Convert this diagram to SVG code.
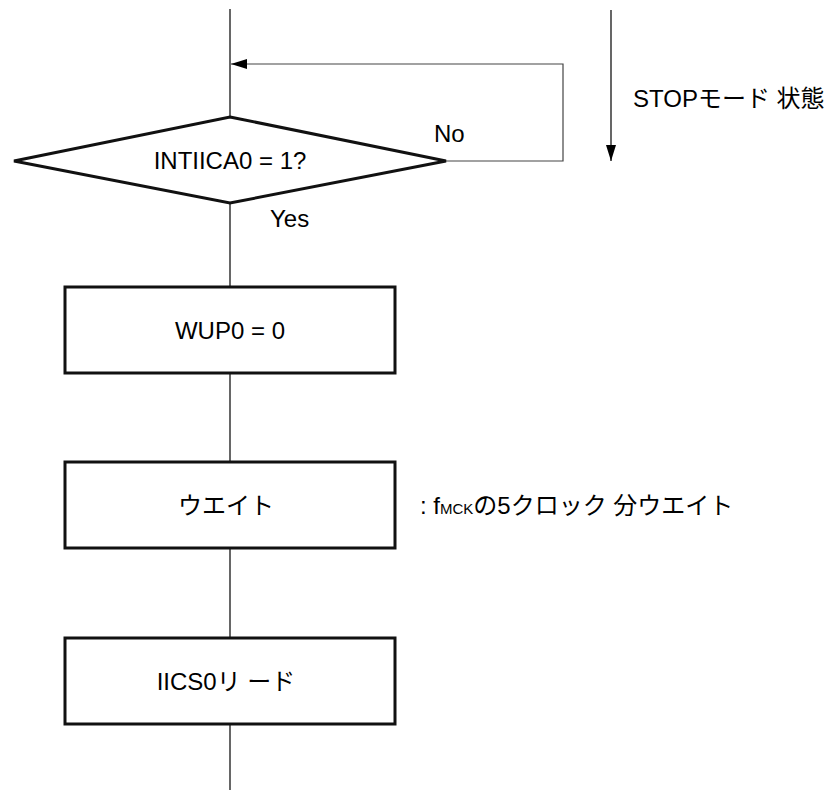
<svg xmlns="http://www.w3.org/2000/svg" width="828" height="796" viewBox="0 0 828 796">
<defs>
<style>
.t{font-family:"Liberation Sans","Noto Sans CJK JP",Arial,sans-serif;font-size:24px;fill:#000}
.c{text-anchor:middle}
.box{fill:#fff;stroke:#111;stroke-width:3}
.ln{fill:none;stroke:#000;stroke-width:1.2}
.lp{fill:none;stroke:#444;stroke-width:1.2}
</style>
<marker id="ah" viewBox="0 0 16 10" refX="16" refY="5" markerWidth="16" markerHeight="10" markerUnits="userSpaceOnUse" orient="auto">
<path d="M0,0 L16,5 L0,10 Z" fill="#000"/>
</marker>
</defs>
<rect width="828" height="796" fill="#fff"/>
<g id="connectors">
<line class="ln" x1="230" y1="9" x2="230" y2="117"/>
<line class="ln" x1="230" y1="203" x2="230" y2="287"/>
<line class="ln" x1="230" y1="373" x2="230" y2="462"/>
<line class="ln" x1="230" y1="548" x2="230" y2="638"/>
<line class="ln" x1="230" y1="724" x2="230" y2="790"/>
<polyline class="lp" points="446,161 563,161 563,64 231,64" marker-end="url(#ah)"/>
<line class="ln" x1="611" y1="10" x2="611" y2="161" marker-end="url(#ah)"/>
</g>
<g id="decision">
<polygon class="box" points="230,117 446,161 230,203 14,161"/>
<text class="t c" x="230" y="169">INTIICA0 = 1?</text>
<text class="t" x="434" y="142">No</text>
<text class="t" x="270" y="227">Yes</text>
</g>
<g id="stop-label">
<text class="t" x="633" y="107">STOPモード 状態</text>
</g>
<g id="wup0">
<rect class="box" x="65" y="287" width="330" height="86"/>
<text class="t c" x="230" y="339">WUP0 = 0</text>
</g>
<g id="wait">
<rect class="box" x="65" y="462" width="330" height="86"/>
<text class="t c" x="226" y="514">ウエイト</text>
<text class="t" x="420" y="514">:  f<tspan font-size="15">MCK</tspan>の5クロック 分ウエイト</text>
</g>
<g id="iics0">
<rect class="box" x="65" y="638" width="330" height="86"/>
<text class="t c" x="226" y="690">IICS0リ ード</text>
</g>
</svg>
